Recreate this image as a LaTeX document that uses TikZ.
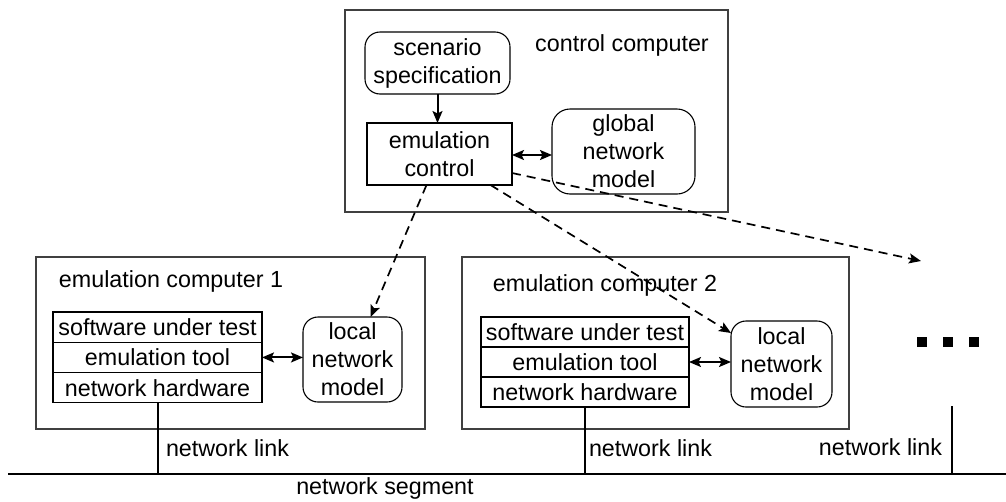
\documentclass[tikz,border=0pt]{standalone}
\usepackage{fontspec}
\setmainfont{Liberation Sans}
\usetikzlibrary{arrows.meta,calc}
\begin{document}
\begin{tikzpicture}[x=1pt,y=-1pt,
  every node/.style={inner sep=0pt,outer sep=0pt,font=\fontsize{23.3}{28}\selectfont,align=center},
  container/.style={draw=black!75,line width=1.3pt,anchor=north west},
  plainbox/.style={draw=black,line width=1.1pt,anchor=north west},
  roundbox/.style={draw=black,line width=1.1pt,rounded corners=15pt,anchor=north west},
  rowbox/.style={draw=black,line width=1.1pt,anchor=north west,minimum height=30.3pt},
  tip/.style={},
  solidarrow/.style={line width=2pt,-{Stealth[length=12pt,width=10pt,inset=2.5pt]}},
  bothways/.style={line width=2pt,{Stealth[length=12pt,width=10pt,inset=2.5pt]}-{Stealth[length=12pt,width=10pt,inset=2.5pt]}},
  dasharrow/.style={line width=1.7pt,dash pattern=on 9pt off 6pt,-{Stealth[length=12pt,width=10pt,inset=2.5pt]}},
  wire/.style={line width=2pt},
  dotsq/.style={fill=black,minimum width=10pt,minimum height=10pt}
]
\useasboundingbox (0,0) rectangle (1006,501);

% control computer
\node[container,minimum width=383pt,minimum height=202pt] (cc) at (345,10) {};
\node (cclab) at (622,45) {control computer};
\node[roundbox,minimum width=145pt,minimum height=62pt] (ss) at (365,32) {scenario\\specification};
\node[plainbox,minimum width=145pt,minimum height=62pt] (ec) at (367,123) {emulation\\control};
\node[roundbox,rounded corners=18pt,minimum width=143pt,minimum height=85pt] (gm) at (552,109) {global\\network\\model};

% emulation computer 1
\node[container,minimum width=389pt,minimum height=172pt] (e1) at (36,257) {};
\node (e1lab) at (171,281) {emulation computer 1};
\node[rowbox,minimum width=209pt] (sw1) at (53,312) {software under test};
\node[rowbox,minimum width=209pt] (tool1) at (53,342.3) {emulation tool};
\node[rowbox,minimum width=209pt] (hw1) at (53,372.6) {network hardware};
\node[roundbox,minimum width=99pt,minimum height=85pt] (l1) at (303,317) {local\\network\\model};

% emulation computer 2
\node[container,minimum width=387pt,minimum height=172pt] (e2) at (462,257) {};
\node (e2lab) at (605,285) {emulation computer 2};
\node[rowbox,minimum width=208pt,minimum height=30pt] (sw2) at (481,317) {software under test};
\node[rowbox,minimum width=208pt,minimum height=30pt] (tool2) at (481,347) {emulation tool};
\node[rowbox,minimum width=208pt,minimum height=30pt] (hw2) at (481,377) {network hardware};
\node[roundbox,minimum width=101pt,minimum height=86pt] (l2) at (731,321) {local\\network\\model};

% dots
\node[dotsq] (d1) at (922,342) {};
\node[dotsq] (d2) at (947.5,342) {};
\node[dotsq] (d3) at (974,342) {};

% network segment
\coordinate (segL) at (8,474);
\coordinate (segR) at (1006,474);
\coordinate (l3top) at (952,406);
\coordinate (far) at (921,261);
\draw[wire] (segL) -- (segR);
\node (seglab) at (385,488) {network segment};

% links
\draw[wire] (hw1.south) -- (hw1.south |- segL);
\draw[wire] (hw2.south) -- (hw2.south |- segL);
\draw[wire] (l3top) -- (l3top |- segL);
\node[anchor=west] (nl1) at (166,448) {network link};
\node[anchor=west] (nl2) at (589,448) {network link};
\node[anchor=east] (nl3) at (942,447) {network link};

% arrows
\draw[solidarrow] (ss.south) -- (ss.south |- ec.north);
\draw[bothways] ([yshift=-1pt]ec.east) -- ([yshift=-1pt]ec.east -| gm.west);
\draw[bothways] (tool1.east) -- (tool1.east -| l1.west);
\draw[bothways] (tool2.east) -- (tool2.east -| l2.west);
\draw[dasharrow] ([xshift=-13pt]ec.south) -- ([xshift=18pt]l1.north);
\draw[dasharrow] ([xshift=51pt]ec.south) -- ([yshift=-12pt]l2.north west);
\draw[dasharrow] ([yshift=-19pt]ec.east) -- (far);
\end{tikzpicture}
\end{document}
